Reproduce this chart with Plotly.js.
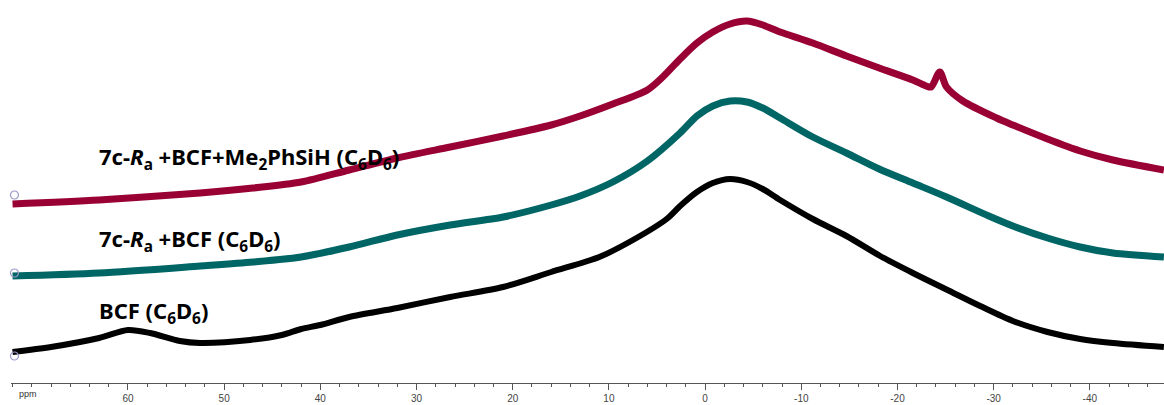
<!DOCTYPE html>
<html>
<head>
<meta charset="utf-8">
<script src="https://cdn.plot.ly/plotly-3.0.1.min.js"></script>
<style>
  html, body { margin: 0; padding: 0; background: #fff; }
  #chart { width: 1164px; height: 405px; }
</style>
</head>
<body>
<div id="chart"></div>
<script>
// Chemical shift (ppm) and intensity (arbitrary units, offset per spectrum)
const bcfPpm = [72, 68, 63, 60, 57.7, 54.6, 52.5, 47.3, 44, 42, 40, 37, 32, 26.5, 21, 16, 11, 7.5, 4, 2.6, 0.85, -0.8, -2.6, -4.35, -6, -7.8, -11.2, -14.7, -18.2, -21.6, -25.2, -28.6, -32, -35.6, -39, -42.4, -47.7];
const bcfInt = [31, 36, 45, 53, 50, 42, 40, 43, 48, 54, 58, 66, 75, 86, 96, 111, 126, 143, 164, 177, 191, 200, 204, 201, 194, 183, 164, 147, 127, 110, 93, 77, 62, 51, 44, 40, 36];

const raBcfPpm = [72, 63, 52.5, 47, 42, 37, 32, 26.5, 21, 16, 13, 9.6, 6, 2.6, 0.85, -0.8, -2.6, -4.35, -6, -7.8, -11.2, -14.7, -18.1, -21.6, -25.1, -29.5, -32, -35.6, -39, -42.4, -47.7];
const raBcfInt = [107, 110, 117, 121, 126, 136, 148, 158, 166, 178, 187, 201, 222, 250, 267, 277, 282, 281, 275, 265, 246, 230, 214, 200, 186, 167, 157, 145, 136, 130, 126];

const raSiPpm = [72, 63, 52.5, 47, 42, 37, 32, 26.5, 21, 16, 13, 9.6, 6, 4.4, 2.6, 0.85, -0.8, -2.6, -4.35, -6, -7.8, -11.2, -14.7, -18.1, -21.6, -23, -23.5, -24.4, -25.1, -26.8, -30.3, -32, -35.6, -39, -42.4, -47.7];
const raSiInt = [179, 183, 190, 195, 201, 213, 225, 236, 247, 258, 267, 279, 293, 306, 324, 340, 351, 359, 362, 358, 351, 340, 327, 315, 303, 297, 296, 311, 296, 282, 265, 258, 244, 232, 223, 213];

// reference markers at the left edge of each spectrum
const refPpm = [71.8, 71.8, 71.8];
const refInt = [188, 110, 27];

const seriesNames = ["BCF (C6D6)", "7c-Ra +BCF (C6D6)", "7c-Ra +BCF+Me2PhSiH (C6D6)"];
const labelTexts = [
  "<b>BCF (C<sub>6</sub>D<sub>6</sub>)</b>",
  "<b>7c-<i>R</i><sub>a</sub> +BCF (C<sub>6</sub>D<sub>6</sub>)</b>",
  "<b>7c-<i>R</i><sub>a</sub> +BCF+Me<sub>2</sub>PhSiH (C<sub>6</sub>D<sub>6</sub>)</b>"
];
const tickVals = [60, 50, 40, 30, 20, 10, 0, -10, -20, -30, -40];
const tickText = ["60", "50", "40", "30", "20", "10", "0", "-10", "-20", "-30", "-40"];

const traces = [
  {x: bcfPpm, y: bcfInt, name: seriesNames[0], mode: 'lines',
   line: {color: '#000000', width: 6, shape: 'spline', smoothing: 0.8}},
  {x: raBcfPpm, y: raBcfInt, name: seriesNames[1], mode: 'lines',
   line: {color: '#006565', width: 7, shape: 'spline', smoothing: 0.8}},
  {x: raSiPpm, y: raSiInt, name: seriesNames[2], mode: 'lines',
   line: {color: '#990033', width: 7, shape: 'spline', smoothing: 0.8}},
  {x: refPpm, y: refInt, mode: 'markers', cliponaxis: false,
   marker: {symbol: 'circle-open', size: 8, color: '#9a9ac8', line: {width: 1.2}}}
];

const labelY = [312, 240, 158];
const annotations = labelTexts.map((t, i) => ({
  text: t, xref: 'paper', yref: 'paper',
  x: (97 - 11) / 1153, y: 1 - labelY[i] / 383,
  xanchor: 'left', yanchor: 'middle', showarrow: false,
  font: {family: '"Noto Sans", "Open Sans", sans-serif', size: 22, color: '#000', weight: 700}
}));
annotations.push({
  text: 'ppm', xref: 'paper', yref: 'paper', x: (17 - 11) / 1153, y: -11 / 383,
  xanchor: 'left', yanchor: 'middle', showarrow: false,
  font: {family: '"Liberation Sans", Arial, sans-serif', size: 9, color: '#333'}
});

const layout = {
  width: 1164, height: 405,
  margin: {l: 11, r: 0, t: 0, b: 22, pad: 0},
  paper_bgcolor: '#fff', plot_bgcolor: '#fff',
  showlegend: false,
  xaxis: {
    range: [72.16, -47.71], showgrid: false, zeroline: false,
    showline: true, linecolor: '#555', linewidth: 1,
    ticks: 'outside', ticklen: 6, tickwidth: 1, tickcolor: '#555',
    tickmode: 'array', tickvals: tickVals, ticktext: tickText,
    tickfont: {family: '"Liberation Sans", Arial, sans-serif', size: 10, color: '#444'},
    minor: {dtick: 2, tick0: 0, ticks: 'outside', ticklen: 3, tickcolor: '#555', showgrid: false}
  },
  yaxis: {range: [0, 383], visible: false, fixedrange: true},
  annotations: annotations
};

Plotly.newPlot('chart', traces, layout, {staticPlot: true});
</script>
</body>
</html>
